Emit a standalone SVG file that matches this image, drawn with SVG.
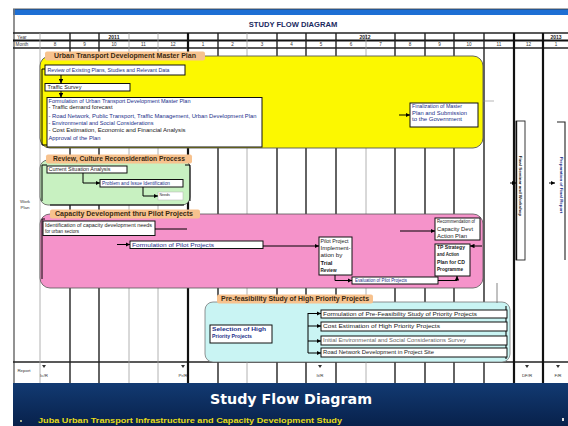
<svg xmlns="http://www.w3.org/2000/svg" width="568" height="426" viewBox="0 0 568 426">
<style>
text{font-family:"Liberation Sans",Arial,sans-serif;fill:#1a1a1a}
.bx{fill:#fff;stroke:#111;stroke-width:1}
.t{font-size:4.6px}
.tb{font-size:4.6px;font-weight:bold}
.tn{font-size:4.6px;fill:#1b2f8a}
.tab{fill:#f7c28e}
.tabt{font-size:6.3px;font-weight:bold;fill:#3b2a12}
.g{stroke:#222;stroke-width:1.4}
.gk{stroke:#111;stroke-width:2.2}
.gl{stroke:#a0a0a0;stroke-width:0.8}
.c{fill:none;stroke:#000;stroke-width:1}
.hd{font-size:4.6px;fill:#333;text-anchor:middle}
.yr{font-size:5px;fill:#222;text-anchor:middle;font-weight:bold}
.rp{font-size:4.4px;fill:#333;text-anchor:middle}
.vt{font-family:"Liberation Sans",Arial,sans-serif;font-size:4.4px;font-weight:bold;text-anchor:middle}
</style>
<defs>
<marker id="ah" viewBox="0 0 6 6" refX="6" refY="3" markerWidth="4.5" markerHeight="4.5" orient="auto" markerUnits="userSpaceOnUse">
<path d="M0,0 L6,3 L0,6 z" fill="#000"/>
</marker>
<linearGradient id="ft" x1="0" y1="0" x2="0" y2="1">
<stop offset="0" stop-color="#123a72"/>
<stop offset="1" stop-color="#08214b"/>
</linearGradient>
</defs>

<!-- page frame -->
<rect x="0" y="0" width="568" height="426" fill="#fff"/>
<rect x="13" y="9" width="555" height="6" fill="#1d6fd4"/>
<line x1="13" y1="9" x2="568" y2="9" stroke="#333" stroke-width="0.8"/>
<line x1="14" y1="9" x2="14" y2="383" stroke="#777" stroke-width="1.6"/>
<text x="293" y="27" style="font-size:7.6px;font-weight:bold;fill:#1a2a60;text-anchor:middle">STUDY FLOW DIAGRAM</text>

<!-- schedule grid -->
<g id="grid">
<line class="g" x1="13" y1="33" x2="568" y2="33" stroke-width="0.8"/>
<line class="gk" x1="13" y1="40.5" x2="568" y2="40.5" stroke-width="1.4"/>
<line class="g" x1="13" y1="48" x2="568" y2="48" stroke-width="1"/>
<line class="g" x1="13" y1="362" x2="568" y2="362" stroke-width="1"/>
<line class="gl" x1="40" y1="33" x2="40" y2="383"/>
<line class="g" x1="70" y1="33" x2="70" y2="383"/>
<line class="g" x1="99" y1="33" x2="99" y2="383"/>
<line class="gl" x1="129" y1="33" x2="129" y2="383"/>
<line class="gl" x1="158" y1="33" x2="158" y2="383"/>
<line class="gk" x1="188" y1="33" x2="188" y2="383"/>
<line class="g" x1="218" y1="33" x2="218" y2="383"/>
<line class="gl" x1="247" y1="33" x2="247" y2="383"/>
<line class="g" x1="277" y1="33" x2="277" y2="383"/>
<line class="g" x1="306" y1="33" x2="306" y2="383"/>
<line class="g" x1="336" y1="33" x2="336" y2="383"/>
<line class="gl" x1="366" y1="33" x2="366" y2="383"/>
<line class="g" x1="395" y1="33" x2="395" y2="383"/>
<line class="g" x1="425" y1="33" x2="425" y2="383"/>
<line class="g" x1="454" y1="33" x2="454" y2="383"/>
<line class="g" x1="484" y1="33" x2="484" y2="383"/>
<line class="gk" x1="514" y1="33" x2="514" y2="383" stroke-width="1.8"/>
<line class="gk" x1="543" y1="33" x2="543" y2="383"/>
<text x="22" y="38.6" class="hd">Year</text>
<text x="22" y="46.3" class="hd">Month</text>
<text x="114" y="38.8" class="yr">2011</text>
<text x="365" y="38.8" class="yr">2012</text>
<text x="556" y="38.8" class="yr">2013</text>
<text x="55" y="46.3" class="hd">8</text>
<text x="84.5" y="46.3" class="hd">9</text>
<text x="114" y="46.3" class="hd">10</text>
<text x="143.5" y="46.3" class="hd">11</text>
<text x="173" y="46.3" class="hd">12</text>
<text x="203" y="46.3" class="hd">1</text>
<text x="232.5" y="46.3" class="hd">2</text>
<text x="262" y="46.3" class="hd">3</text>
<text x="291.5" y="46.3" class="hd">4</text>
<text x="321" y="46.3" class="hd">5</text>
<text x="351" y="46.3" class="hd">6</text>
<text x="380.5" y="46.3" class="hd">7</text>
<text x="410" y="46.3" class="hd">8</text>
<text x="439.5" y="46.3" class="hd">9</text>
<text x="469" y="46.3" class="hd">10</text>
<text x="499" y="46.3" class="hd">11</text>
<text x="528.5" y="46.3" class="hd">12</text>
<text x="556" y="46.3" class="hd">1</text>
</g>

<!-- report milestones -->
<g id="reports">
<text x="24" y="372" class="rp">Report</text>
<path d="M42,365 h4 l-2,3 z" fill="#333"/><text x="44" y="377" class="rp">Ic/R</text>
<path d="M181,365 h4 l-2,3 z" fill="#333"/><text x="183" y="377" class="rp">Pr/R</text>
<path d="M318,365 h4 l-2,3 z" fill="#333"/><text x="320" y="377" class="rp">It/R</text>
<path d="M525,365 h4 l-2,3 z" fill="#333"/><text x="527" y="377" class="rp">DF/R</text>
<path d="M556,365 h4 l-2,3 z" fill="#333"/><text x="558" y="377" class="rp">F/R</text>
</g>

<!-- master plan stage -->
<g id="master-plan">
<rect x="40" y="56" width="443" height="92" rx="10" fill="#fcf800" stroke="#555" stroke-width="0.9"/>
<rect x="45" y="51.5" width="160" height="9" rx="2" class="tab"/>
<text x="54" y="58.4" class="tabt" textLength="142" lengthAdjust="spacingAndGlyphs">Urban Transport Development Master Plan</text>
<path d="M47,69 H42 V145 H49" class="c" stroke-width="1.3"/>
</g>
<g id="review-box">
<rect x="45" y="65" width="140" height="10" class="bx"/>
<text x="47.5" y="71.6" class="tn" textLength="122" lengthAdjust="spacingAndGlyphs">Review of Existing Plans, Studies and Relevant Data</text>
</g>
<g id="survey-box">
<rect x="45" y="83.5" width="85" height="7.5" class="bx"/>
<text x="47.5" y="89" class="t" textLength="34" lengthAdjust="spacingAndGlyphs">Traffic Survey</text>
</g>
<g id="formulation-box">
<rect x="47" y="97.5" width="215" height="49.5" class="bx"/>
<text x="48.5" y="103" class="tn" textLength="142" lengthAdjust="spacingAndGlyphs">Formulation of Urban Transport Development Master Plan</text>
<text x="48.5" y="109.2" class="t" textLength="64" lengthAdjust="spacingAndGlyphs">- Traffic demand forecast</text>
<text x="48.5" y="117.5" class="tn" textLength="208" lengthAdjust="spacingAndGlyphs">- Road Network, Public Transport, Traffic Management, Urban Development Plan</text>
<text x="48.5" y="124.8" class="tn" textLength="105" lengthAdjust="spacingAndGlyphs">- Environmental and Social Considerations</text>
<text x="48.5" y="132.4" class="t" textLength="137" lengthAdjust="spacingAndGlyphs">- Cost Estimation, Economic and Financial Analysis</text>
<text x="48.5" y="139.8" class="tn" textLength="52" lengthAdjust="spacingAndGlyphs">Approval of the Plan</text>
</g>
<g id="finalization-box">
<rect x="410" y="103" width="68" height="24" class="bx"/>
<text x="412" y="108" class="tn" textLength="50" lengthAdjust="spacingAndGlyphs">Finalization of Master</text>
<text x="412" y="114.5" class="tn" textLength="55" lengthAdjust="spacingAndGlyphs">Plan and Submission</text>
<text x="412" y="121" class="tn" textLength="50" lengthAdjust="spacingAndGlyphs">to the Government</text>
</g>

<!-- review / reconsideration stage -->
<g id="reconsideration">
<rect x="40" y="160" width="150" height="45" rx="8" fill="#c8f1c1" stroke="#555" stroke-width="0.8"/>
<path d="M47,165 H42 V201" class="c" stroke-width="1.2"/>
<path d="M185,165 H190 V201" class="c" stroke-width="1.2"/>
<line x1="50" y1="205" x2="184" y2="205" stroke="#000" stroke-width="1.2"/>
<rect x="46" y="154.5" width="146" height="9" rx="2" class="tab"/>
<text x="53" y="161.4" class="tabt" textLength="132" lengthAdjust="spacingAndGlyphs">Review, Culture Reconsideration Process</text>
</g>
<g id="status-box">
<rect x="47" y="166" width="80" height="7" class="bx"/>
<text x="48.5" y="171.3" class="t" textLength="62" lengthAdjust="spacingAndGlyphs">Current Situation Analysis</text>
</g>
<g id="issues-box">
<rect x="100" y="179.5" width="83" height="7.5" class="bx"/>
<text x="102" y="185" class="tn" textLength="68" lengthAdjust="spacingAndGlyphs">Problem and Issue Identification</text>
</g>
<g id="needs-box">
<rect x="158" y="192" width="25" height="8" fill="#fff" stroke="#bbb" stroke-width="0.6"/>
<text x="159.5" y="196" style="font-size:3.6px;fill:#222">Needs</text>
</g>
<text x="25" y="203" style="font-size:4.4px;fill:#333;text-anchor:middle">Work</text>
<text x="25" y="208.5" style="font-size:4.4px;fill:#333;text-anchor:middle">Plan</text>

<!-- capacity development stage -->
<g id="capacity">
<rect x="40" y="214" width="443" height="74" rx="10" fill="#f593ca" stroke="#555" stroke-width="0.8"/>
<path d="M45,219 H42 V279" class="c" stroke-width="1.2"/>
<rect x="50" y="209.5" width="150" height="9" rx="2" class="tab"/>
<text x="55" y="216.4" class="tabt" textLength="138" lengthAdjust="spacingAndGlyphs">Capacity Development thru Pilot Projects</text>
</g>
<g id="needs-identification">
<rect x="43" y="221" width="112" height="14.5" class="bx"/>
<text x="45" y="226.5" class="t" textLength="107" lengthAdjust="spacingAndGlyphs">Identification of capacity development needs</text>
<text x="45" y="233.3" class="t" textLength="34" lengthAdjust="spacingAndGlyphs">for urban sectors</text>
</g>
<g id="pilot-formulation">
<rect x="130" y="241" width="133" height="7.5" class="bx"/>
<text x="132" y="246.6" class="tn" textLength="82" lengthAdjust="spacingAndGlyphs">Formulation of Pilot Projects</text>
</g>
<g id="pilot-implementation">
<rect x="319" y="237" width="33" height="38" class="bx"/>
<text x="320.5" y="242.5" class="t" textLength="28" lengthAdjust="spacingAndGlyphs">Pilot Project</text>
<text x="320.5" y="250" class="t" textLength="30" lengthAdjust="spacingAndGlyphs">Implement-</text>
<text x="320.5" y="257.3" class="t" textLength="22" lengthAdjust="spacingAndGlyphs">ation by</text>
<text x="320.5" y="264.8" class="tb" textLength="12" lengthAdjust="spacingAndGlyphs">Trial</text>
<text x="320.5" y="272.3" class="tb" textLength="16" lengthAdjust="spacingAndGlyphs">Review</text>
</g>
<g id="pilot-evaluation">
<rect x="352" y="277" width="86" height="7" class="bx"/>
<text x="355" y="282.3" class="tn" textLength="52" lengthAdjust="spacingAndGlyphs">Evaluation of Pilot Projects</text>
</g>
<g id="recommendation">
<rect x="435" y="218" width="45" height="22" class="bx"/>
<text x="437" y="223" class="t" textLength="38" lengthAdjust="spacingAndGlyphs">Recommendation of</text>
<text x="437" y="230.5" class="t" textLength="36" lengthAdjust="spacingAndGlyphs">Capacity Devt</text>
<text x="437" y="238" class="t" textLength="30" lengthAdjust="spacingAndGlyphs">Action Plan</text>
</g>
<g id="action-plan">
<rect x="435" y="244" width="35" height="32" class="bx"/>
<text x="437" y="249" class="tb" textLength="28" lengthAdjust="spacingAndGlyphs">TP Strategy</text>
<text x="437" y="255.5" class="tb" textLength="22" lengthAdjust="spacingAndGlyphs">and Action</text>
<text x="437" y="264" class="tb" textLength="28" lengthAdjust="spacingAndGlyphs">Plan for CD</text>
<text x="437" y="271" class="tb" textLength="26" lengthAdjust="spacingAndGlyphs">Programme</text>
</g>

<!-- pre-feasibility stage -->
<g id="pre-feasibility">
<rect x="205" y="302" width="305" height="60" rx="8" fill="#c9f4f3" stroke="#777" stroke-width="0.8"/>
<line x1="506" y1="306" x2="506" y2="359" stroke="#222" stroke-width="1.2"/>
<rect x="217" y="294.5" width="156" height="9" rx="2" class="tab"/>
<text x="221" y="301.4" class="tabt" textLength="148" lengthAdjust="spacingAndGlyphs">Pre-feasibility Study of High Priority Projects</text>
</g>
<g id="selection-box">
<rect x="210" y="325" width="62" height="18" class="bx" stroke-width="1.3"/>
<text x="212" y="330.8" class="tn" style="font-weight:bold" textLength="54" lengthAdjust="spacingAndGlyphs">Selection of High</text>
<text x="212" y="338.3" class="tn" style="font-weight:bold" textLength="40" lengthAdjust="spacingAndGlyphs">Priority Projects</text>
</g>
<g id="prefs-design">
<rect x="321" y="310" width="186" height="8" class="bx"/>
<text x="323" y="315.6" class="t" textLength="154" lengthAdjust="spacingAndGlyphs">Formulation of Pre-Feasibility Study of Priority Projects</text>
</g>
<g id="prefs-cost">
<rect x="321" y="322" width="186" height="9" class="bx"/>
<text x="323" y="328.2" class="t" textLength="117" lengthAdjust="spacingAndGlyphs">Cost Estimation of High Priority Projects</text>
</g>
<g id="prefs-environment">
<rect x="321" y="336" width="186" height="9" class="bx"/>
<text x="323" y="342.2" class="t" style="fill:#666" textLength="143" lengthAdjust="spacingAndGlyphs">Initial Environmental and Social Considerations Survey</text>
</g>
<g id="prefs-site">
<rect x="321" y="348" width="186" height="9" class="bx"/>
<text x="323" y="354.2" class="t" textLength="111" lengthAdjust="spacingAndGlyphs">Road Network Development in Project Site</text>
</g>

<!-- closing stages -->
<g id="workshop">
<rect x="516" y="121" width="9" height="139" fill="#fff" stroke="#222" stroke-width="0.9"/>
<line x1="516.5" y1="121" x2="516.5" y2="260" stroke="#111" stroke-width="1.4"/>
<text x="520.5" y="186" transform="rotate(90 520.5 186)" dy="1.5" class="vt" style="fill:#222">Final Seminar and Workshop</text>
</g>
<g id="final-report">
<path d="M557,122 H565 V260" fill="none" stroke="#222" stroke-width="1.1"/>
<text x="561" y="185" transform="rotate(90 561 185)" dy="1.5" class="vt" style="fill:#1b2f8a">Preparation of Final Report</text>
</g>

<!-- connectors -->
<g id="connectors" fill="none" stroke="#000" stroke-width="1">
<line x1="61" y1="75" x2="61" y2="83.5" marker-end="url(#ah)"/>
<line x1="61" y1="91" x2="61" y2="97.5" marker-end="url(#ah)"/>
<line x1="399" y1="115" x2="410" y2="115" marker-end="url(#ah)"/>
<line x1="483" y1="101" x2="494" y2="101" stroke="#888" stroke-width="0.6"/>
<path d="M83,173 V183 H100" marker-end="url(#ah)"/>
<path d="M143,187 V196 H158" marker-end="url(#ah)"/>
<line x1="155" y1="229" x2="187" y2="229"/>
<line x1="117" y1="244.5" x2="130" y2="244.5" marker-end="url(#ah)"/>
<line x1="263" y1="246" x2="319" y2="246" marker-end="url(#ah)"/>
<path d="M335,275 V280.5 H352" marker-end="url(#ah)"/>
<path d="M438,280.5 H457 V276" marker-end="url(#ah)"/>
<line x1="400" y1="231" x2="435" y2="231" marker-end="url(#ah)"/>
<line x1="482" y1="246" x2="470" y2="246" marker-end="url(#ah)"/>
<line x1="497" y1="283" x2="497" y2="303" stroke="#666" stroke-width="0.8"/>
<path d="M308,313 V353"/>
<line x1="308" y1="313.5" x2="321" y2="313.5" marker-end="url(#ah)"/>
<line x1="308" y1="326" x2="321" y2="326" marker-end="url(#ah)"/>
<line x1="308" y1="341" x2="321" y2="341" marker-end="url(#ah)"/>
<line x1="308" y1="353" x2="321" y2="353" marker-end="url(#ah)"/>
<line x1="510" y1="183" x2="516" y2="183" marker-end="url(#ah)"/>
<line x1="549" y1="183" x2="555" y2="183" marker-end="url(#ah)"/>
</g>

<!-- title banner -->
<g id="banner">
<rect x="13" y="383" width="555" height="43" fill="url(#ft)"/>
<text x="291" y="404" style="font-family:'DejaVu Sans',sans-serif;font-size:14px;font-weight:bold;fill:#ffffff;text-anchor:middle" textLength="162" lengthAdjust="spacingAndGlyphs">Study Flow Diagram</text>
<circle cx="21" cy="421" r="1" fill="#e0e0a0"/>
<text x="38" y="423" style="font-size:7.5px;font-weight:bold;fill:#e6dc18" textLength="304" lengthAdjust="spacingAndGlyphs">Juba Urban Transport Infrastructure and Capacity Development Study</text>
<rect x="562" y="418" width="2" height="3" fill="#ddd"/>
</g>
</svg>
